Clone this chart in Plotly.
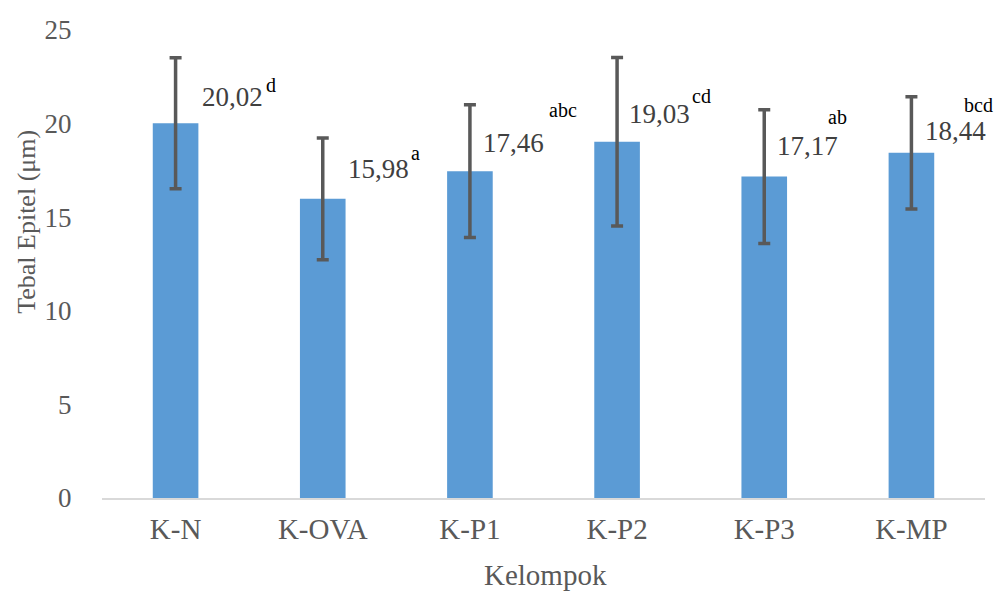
import plotly.graph_objects as go

categories = ["K-N", "K-OVA", "K-P1", "K-P2", "K-P3", "K-MP"]
means = [20.02, 15.98, 17.46, 19.03, 17.17, 18.44]
sd = [3.5, 3.25, 3.55, 4.5, 3.57, 3.0]
value_labels = ["20,02", "15,98", "17,46", "19,03", "17,17", "18,44"]
letters = ["d", "a", "abc", "cd", "ab", "bcd"]

# label offsets in pixels (value label, letter label)
val_shift = [(57, 26), (56, 30), (44, 28), (42, 28), (43, 31), (44, 22)]
let_shift = [(95, 38), (93, 46), (93, 61), (84, 46), (73, 60), (67, 48)]

fig = go.Figure()
fig.add_trace(go.Bar(
    x=categories, y=means, width=0.31,
    marker=dict(color="#5B9BD5", line=dict(width=0)),
    error_y=dict(type="data", array=sd, visible=True, color="#595959",
                 thickness=3.5, width=6),
))

for i, c in enumerate(categories):
    fig.add_annotation(x=c, y=means[i], xref="x", yref="y", text=value_labels[i],
                       showarrow=False, xshift=val_shift[i][0], yshift=val_shift[i][1],
                       font=dict(family="Liberation Serif", size=27, color="#404040"))
    fig.add_annotation(x=c, y=means[i], xref="x", yref="y", text=letters[i],
                       showarrow=False, xshift=let_shift[i][0], yshift=let_shift[i][1],
                       font=dict(family="Liberation Serif", size=20, color="#000000"))

# axis titles
fig.add_annotation(x=0.5017, y=-0.1645, xref="paper", yref="paper", text="Kelompok",
                   showarrow=False, xanchor="center", yanchor="middle",
                   font=dict(family="Liberation Serif", size=29, color="#595959"))
fig.add_annotation(x=-0.085, y=0.59, xref="paper", yref="paper", text="Tebal Epitel (μm)",
                   showarrow=False, xanchor="center", yanchor="middle", textangle=-90,
                   font=dict(family="Liberation Serif", size=26, color="#595959"))

fig.update_layout(
    width=990, height=600,
    margin=dict(l=94, r=13, t=22, b=110, autoexpand=False),
    paper_bgcolor="white", plot_bgcolor="white",
    showlegend=False,
    font=dict(family="Liberation Serif", color="#595959"),
    xaxis=dict(
        automargin=False, range=[-0.5, 5.5],
        showgrid=False, showline=True, linecolor="#D9D9D9", linewidth=1.5,
        ticks="outside", ticklen=4, tickcolor="rgba(0,0,0,0)",
        tickfont=dict(size=29, color="#595959"),
    ),
    yaxis=dict(
        automargin=False,
        range=[0, 25], dtick=5, showgrid=False, zeroline=False, showline=False,
        ticks="outside", ticklen=24, tickcolor="rgba(0,0,0,0)",
        tickfont=dict(size=27, color="#595959"),
    ),
)

fig.write_html("out.html")
